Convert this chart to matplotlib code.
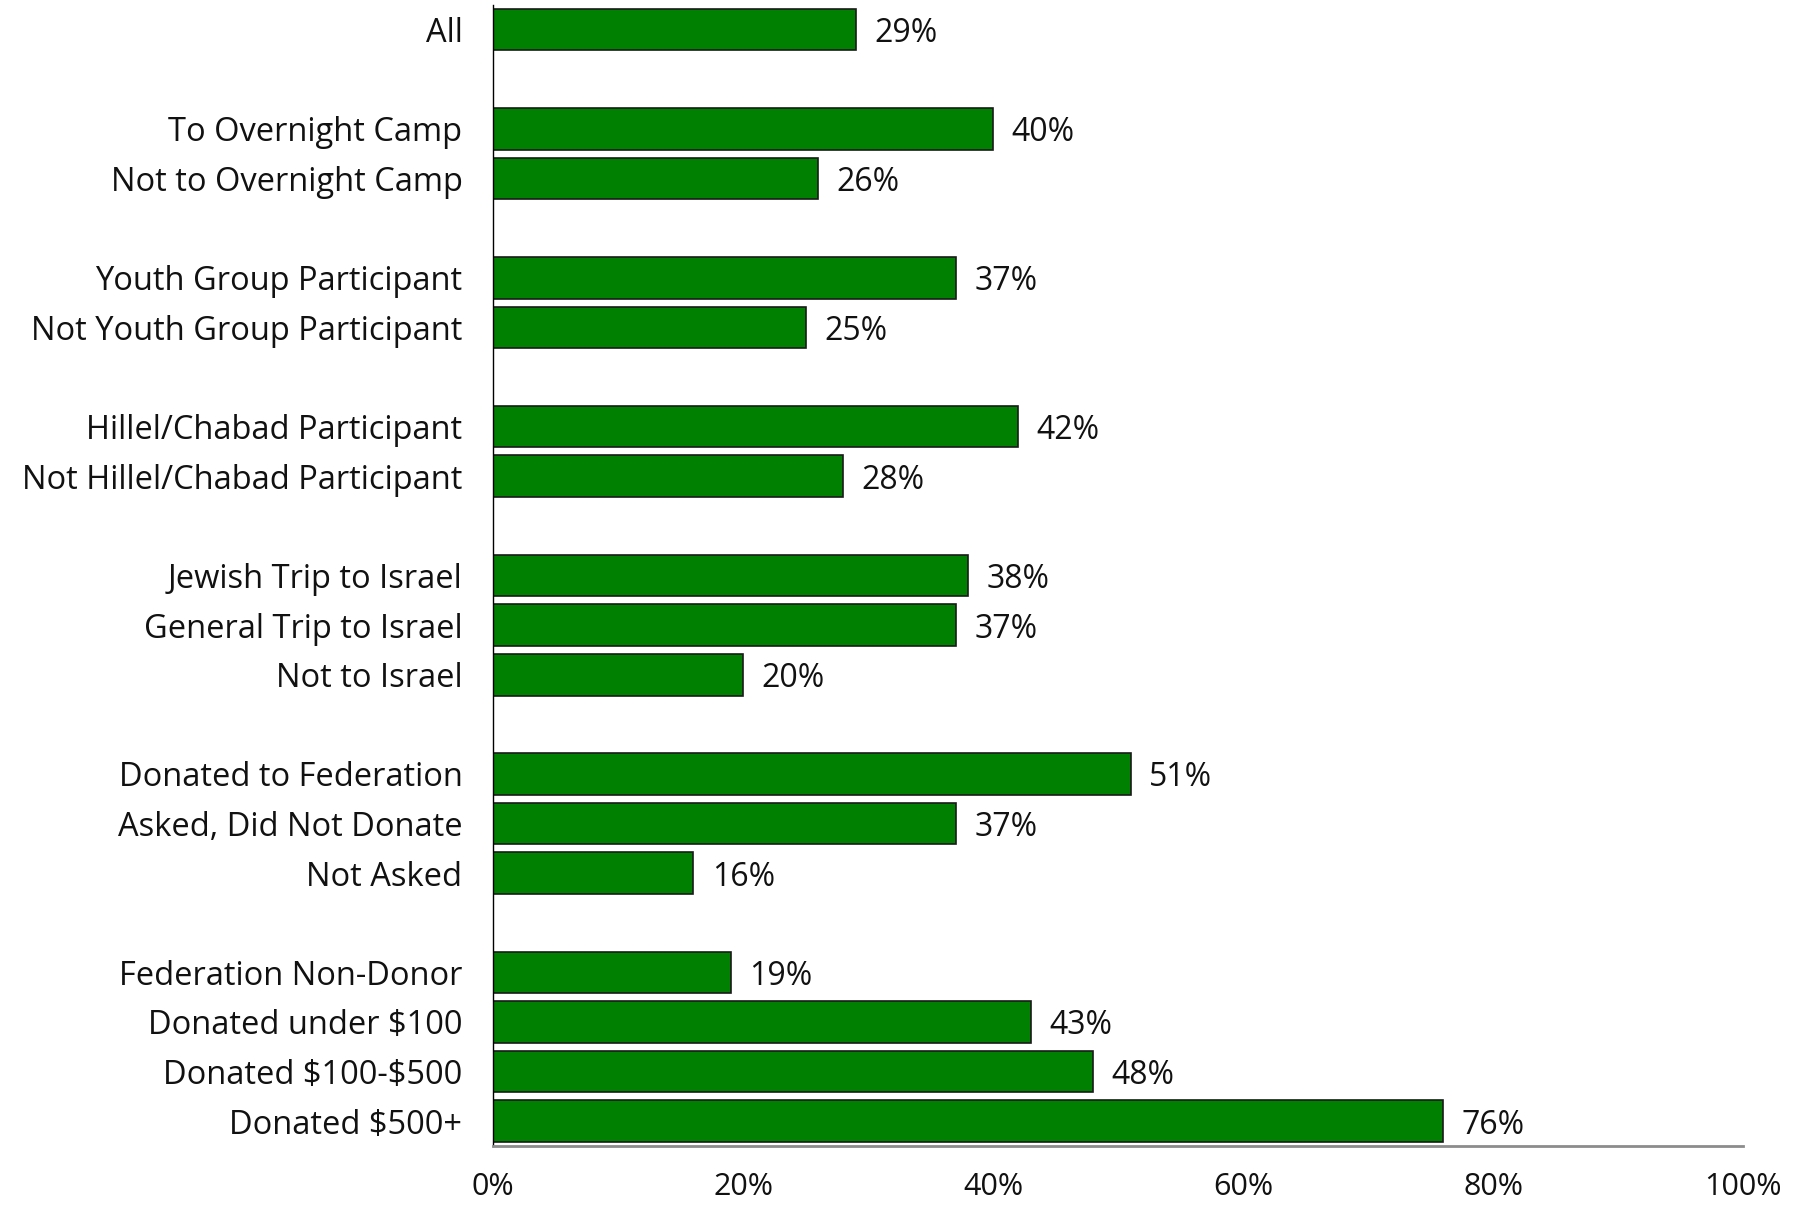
import matplotlib.pyplot as plt
import numpy as np

plt.rcParams['font.family'] = ['Open Sans', 'DejaVu Sans']
plt.rcParams['text.parse_math'] = False

labels = [
    'All',
    'To Overnight Camp', 'Not to Overnight Camp',
    'Youth Group Participant', 'Not Youth Group Participant',
    'Hillel/Chabad Participant', 'Not Hillel/Chabad Participant',
    'Jewish Trip to Israel', 'General Trip to Israel', 'Not to Israel',
    'Donated to Federation', 'Asked, Did Not Donate', 'Not Asked',
    'Federation Non-Donor', 'Donated under $100', 'Donated $100-$500', 'Donated $500+',
]
values = [29, 40, 26, 37, 25, 42, 28, 38, 37, 20, 51, 37, 16, 19, 43, 48, 76]
# group sizes, one empty slot between groups
groups = [1, 2, 2, 2, 3, 3, 4]

positions = []
pos = 0
for g in groups:
    for i in range(g):
        positions.append(pos)
        pos += 1
    pos += 1
positions = np.array(positions)

fig = plt.figure(figsize=(18.08, 12.08), dpi=100)
ax = fig.add_axes([0.2727, 0.0513, 0.6914, 0.9447])

ax.barh(positions, values, height=0.84, color='#008000', edgecolor='#1a1a1a', linewidth=1.2)

for p, v in zip(positions, values):
    ax.text(v + 1.5, p + 0.08, f'{v}%', va='center', ha='left', fontsize=23, color='#111111')

ax.set_yticks(positions)
ax.set_yticklabels(labels, fontsize=23.5, color='#111111')
ax.set_ylim(positions[-1] + 0.5, -0.5)
ax.set_xlim(0, 100)
ax.set_xticks([0, 20, 40, 60, 80, 100])
ax.set_xticklabels([f'{t}%' for t in [0, 20, 40, 60, 80, 100]], fontsize=22, color='#111111')

ax.tick_params(axis='y', length=0, pad=22)
ax.tick_params(axis='x', length=0, pad=19)

ax.spines['top'].set_visible(False)
ax.spines['right'].set_visible(False)
ax.spines['left'].set_color('black')
ax.spines['left'].set_linewidth(1)
ax.spines['bottom'].set_color('#8c8c8c')
ax.spines['bottom'].set_linewidth(2)

fig.savefig('out.png', dpi=100)
